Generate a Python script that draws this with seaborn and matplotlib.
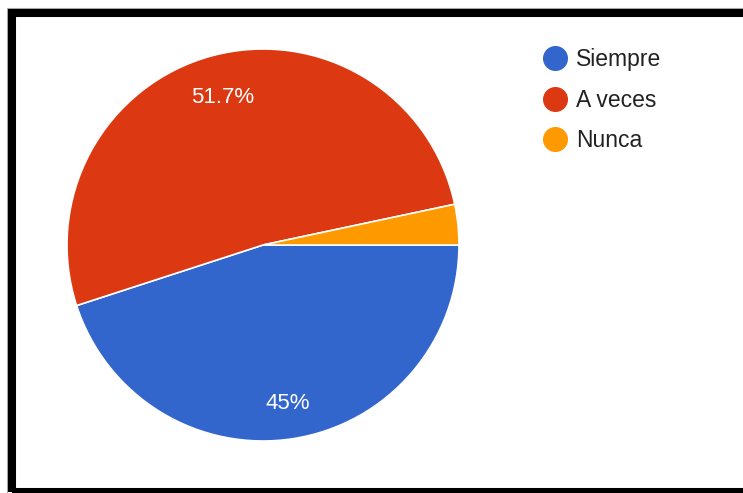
import matplotlib
matplotlib.use("Agg")
import matplotlib.pyplot as plt
from matplotlib.lines import Line2D
from matplotlib.patches import Rectangle
from matplotlib.transforms import offset_copy
import seaborn as sns

sns.set_theme(style="white")
plt.rcParams["font.family"] = ["Liberation Sans", "DejaVu Sans"]

# Survey answers
categories = ["Siempre", "A veces", "Nunca"]
counts = [27, 31, 2]
colors = ["#3366cc", "#dc3912", "#ff9900"]

W, H = 743, 493
fig = plt.figure(figsize=(W / 100, H / 100), dpi=100)
fig.patch.set_facecolor("white")

ax = fig.add_axes([0, 0, 1, 1])


def pct_label(p):
    if p < 5:
        return ""
    s = f"{p:.1f}"
    if s.endswith(".0"):
        s = s[:-2]
    return s + "%"


wedges, _, autotexts = ax.pie(
    counts,
    colors=colors,
    startangle=0,
    counterclock=False,
    center=(263, H - 245),
    radius=196,
    autopct=pct_label,
    pctdistance=0.8,
    wedgeprops=dict(edgecolor="white", linewidth=1.2),
    textprops=dict(color="white", fontsize=16),
    frame=True,
)
ax.set_xlim(0, W)
ax.set_ylim(0, H)
ax.set_aspect("equal")
ax.axis("off")

# nudge percentage labels slightly downward
for t in autotexts:
    t.set_transform(offset_copy(t.get_transform(), fig=fig, y=-4, units="dots"))

handles = [
    Line2D([0], [0], marker="o", linestyle="none", markersize=17,
           markerfacecolor=c, markeredgecolor=c)
    for c in colors
]
fig.legend(
    handles, categories,
    loc="upper left",
    bbox_to_anchor=(526 / W, 1 - 37 / H),
    frameon=False,
    fontsize=16.5,
    labelcolor="#222222",
    handletextpad=0.2,
    labelspacing=0.76,
    borderpad=0,
    handlelength=1.5,
)

# Black frame around the chart (right side runs off the canvas)
fig.add_artist(Rectangle((7 / W, -0.1), 1.2, 1.1 - 8 / H, transform=fig.transFigure,
                         fill=False, edgecolor="#aaaaaa", linewidth=0.8))
fig.add_artist(Rectangle((12 / W, 1.5 / H), 1.2, (480 - 1.5) / H,
                         transform=fig.transFigure, fill=False,
                         edgecolor="black", linewidth=5.8))

fig.savefig("out.png", dpi=100, facecolor="white")
